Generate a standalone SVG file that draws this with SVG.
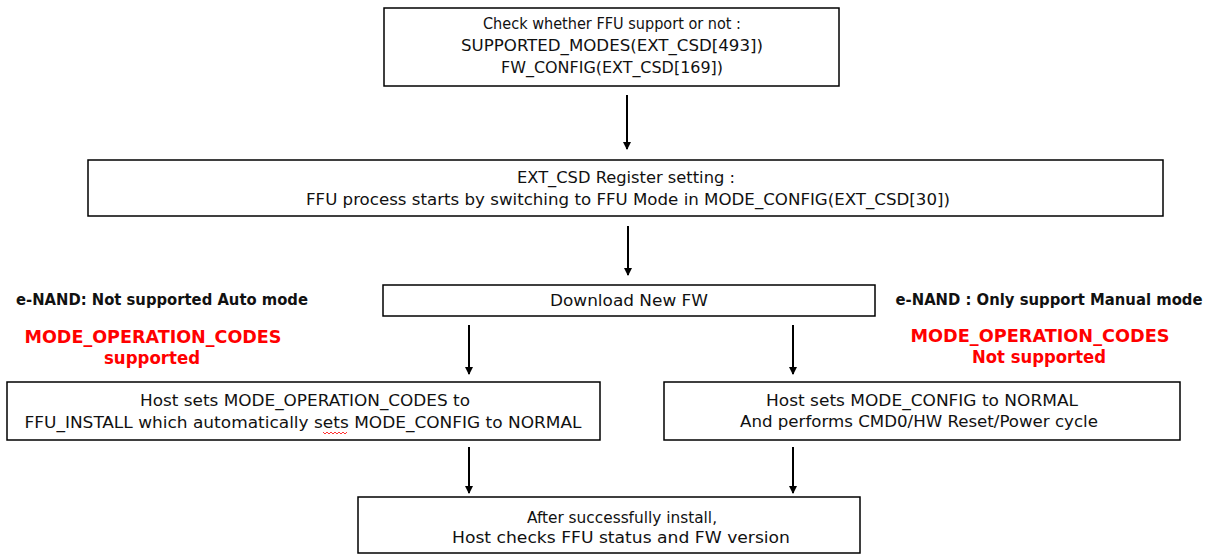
<svg xmlns="http://www.w3.org/2000/svg" width="1210" height="555" viewBox="0 0 1210 555">
<style>
.box{fill:#fff;stroke:#000;stroke-width:1.5}
.t{font-family:"DejaVu Sans Condensed","DejaVu Sans",sans-serif;font-size:15px;fill:#111;text-anchor:middle}
.b{font-family:"DejaVu Sans","Liberation Sans",sans-serif;font-size:15px;font-weight:bold;fill:#111;text-anchor:middle}
.r{font-family:"DejaVu Sans","Liberation Sans",sans-serif;font-size:17px;font-weight:bold;fill:#ff0000;text-anchor:middle}
.c{stroke:#000;stroke-width:2;fill:none}
</style>
<defs>
<marker id="ah" markerWidth="8" markerHeight="8" refX="7" refY="4" orient="auto" markerUnits="userSpaceOnUse">
<path d="M0,0 L8,4 L0,8 Z" fill="#000"/>
</marker>
</defs>
<rect width="1210" height="555" fill="#fff"/>
<g id="connectors">
<line class="c" x1="627" y1="95" x2="627" y2="149" marker-end="url(#ah)"/>
<line class="c" x1="628" y1="226" x2="628" y2="275" marker-end="url(#ah)"/>
<line class="c" x1="469" y1="325" x2="469" y2="374" marker-end="url(#ah)"/>
<line class="c" x1="793" y1="325" x2="793" y2="374" marker-end="url(#ah)"/>
<line class="c" x1="469" y1="447" x2="469" y2="493" marker-end="url(#ah)"/>
<line class="c" x1="793" y1="447" x2="793" y2="493" marker-end="url(#ah)"/>
</g>
<g id="check">
<rect class="box" x="384" y="8" width="455" height="78"/>
<text class="t" x="612" y="29" textLength="258" lengthAdjust="spacingAndGlyphs">Check whether FFU support or not :</text>
<text class="t" x="612" y="51" textLength="302" lengthAdjust="spacingAndGlyphs">SUPPORTED_MODES(EXT_CSD[493])</text>
<text class="t" x="612" y="73" textLength="222" lengthAdjust="spacingAndGlyphs">FW_CONFIG(EXT_CSD[169])</text>
</g>
<g id="extcsd">
<rect class="box" x="88" y="160" width="1075" height="56"/>
<text class="t" x="626" y="183" textLength="218" lengthAdjust="spacingAndGlyphs">EXT_CSD Register setting :</text>
<text class="t" x="628" y="205" textLength="644" lengthAdjust="spacingAndGlyphs">FFU process starts by switching to FFU Mode in MODE_CONFIG(EXT_CSD[30])</text>
</g>
<g id="download">
<rect class="box" x="383" y="285" width="492" height="31"/>
<text class="t" x="629" y="306" textLength="158" lengthAdjust="spacingAndGlyphs">Download New FW</text>
</g>
<g id="left-label">
<text class="b" x="162" y="305" textLength="292" lengthAdjust="spacingAndGlyphs">e-NAND: Not supported Auto mode</text>
<text class="r" x="153" y="343" textLength="257" lengthAdjust="spacingAndGlyphs">MODE_OPERATION_CODES</text>
<text class="r" x="152" y="364" textLength="96" lengthAdjust="spacingAndGlyphs">supported</text>
</g>
<g id="right-label">
<text class="b" x="1049" y="305" textLength="307" lengthAdjust="spacingAndGlyphs">e-NAND : Only support  Manual mode</text>
<text class="r" x="1040" y="342" textLength="259" lengthAdjust="spacingAndGlyphs">MODE_OPERATION_CODES</text>
<text class="r" x="1039" y="363" textLength="134" lengthAdjust="spacingAndGlyphs">Not supported</text>
</g>
<g id="auto">
<rect class="box" x="7" y="382" width="593" height="58"/>
<text class="t" x="305" y="406" textLength="330" lengthAdjust="spacingAndGlyphs">Host sets MODE_OPERATION_CODES to</text>
<text class="t" x="303" y="428" textLength="557" lengthAdjust="spacingAndGlyphs">FFU_INSTALL which automatically sets  MODE_CONFIG to NORMAL</text>
<path d="M323,432 l2,2 l2,-2 l2,2 l2,-2 l2,2 l2,-2 l2,2 l2,-2 l2,2 l2,-2 l2,2 l2,-2" fill="none" stroke="#ff0000" stroke-width="0.8"/>
</g>
<g id="manual">
<rect class="box" x="664" y="382" width="516" height="58"/>
<text class="t" x="922" y="406" textLength="312" lengthAdjust="spacingAndGlyphs">Host sets MODE_CONFIG to NORMAL</text>
<text class="t" x="919" y="427" textLength="358" lengthAdjust="spacingAndGlyphs">And performs CMD0/HW Reset/Power cycle</text>
</g>
<g id="verify">
<rect class="box" x="358" y="497" width="502" height="56"/>
<text class="t" x="622" y="523" textLength="190" lengthAdjust="spacingAndGlyphs">After successfully install,</text>
<text class="t" x="621" y="543" textLength="338" lengthAdjust="spacingAndGlyphs">Host checks FFU status and FW version</text>
</g>
</svg>
